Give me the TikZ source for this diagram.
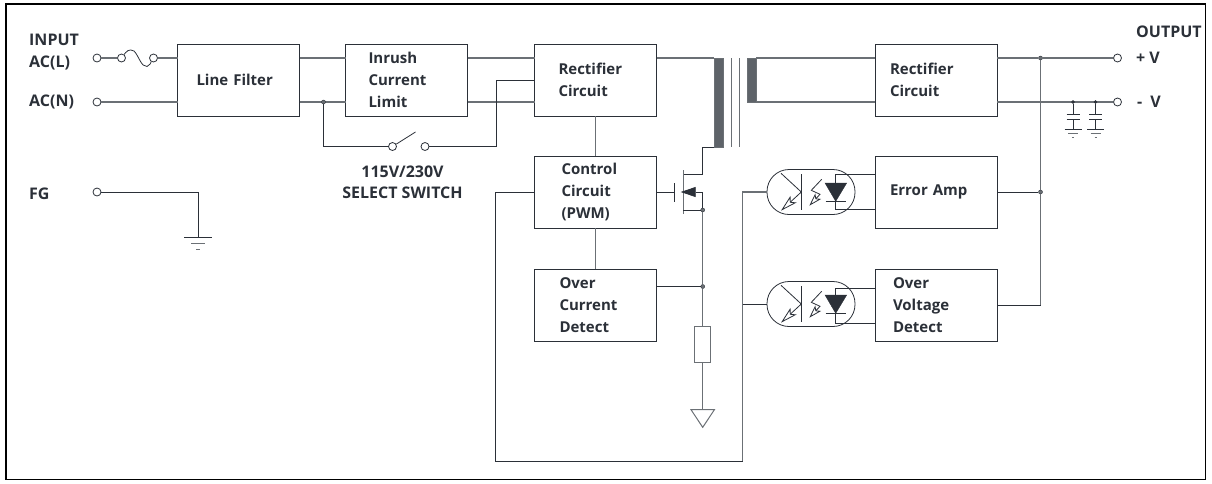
\documentclass[tikz,border=0pt]{standalone}
\usepackage{fontspec}
\setmainfont{Open Sans}
\usetikzlibrary{positioning,calc}
\usetikzlibrary{arrows.meta}
\definecolor{ink}{rgb}{0.17,0.19,0.22}
\definecolor{steel}{rgb}{0.42,0.44,0.46}
\definecolor{core}{rgb}{0.37,0.39,0.41}

\begin{document}
\begin{tikzpicture}[
  x=1pt,
  y=-1pt,
  box/.style = {
    draw=ink,
    line width=0.8pt,
    fill = white,
    outer sep = 0pt,
    minimum width = 122pt,
    minimum height = 72pt,
    inner xsep = #1,
    text width = 122pt-2*#1,
    align = left,
    font = \fontsize{15}{22}\selectfont\bfseries,
    text = ink,
  },
  caption/.style = {
    inner sep = 0pt,
    align = center,
    text = ink,
    font = \fontsize{16}{21}\selectfont\bfseries,
  },
  term/.style = {
    draw=ink,
    circle,
    line width=0.8pt,
    fill = white,
    inner sep = 0pt,
    minimum size = 8pt,
  },
  dot/.style = {
    draw=ink,
    circle,
    fill = steel,
    inner sep = 0pt,
    minimum size = 4pt,
  },
  wire/.style = {ink,line width=0.8pt},
  power/.style = {steel,line width=1.3pt},
  winding/.style = {
    draw=steel,
    fill = core,
    outer sep = 0pt,
    minimum width = 9pt,
    inner sep = 0pt,
  },
  opto/.style = {
    draw=ink,
    line width=0.8pt,
    rounded corners = 22pt,
    outer sep = 0pt,
    minimum width = 88pt,
    minimum height = 45pt,
  },
]
  \useasboundingbox (0,0) rectangle (1212,483);
  \draw[black,line width=1.8pt] (6,4) rectangle (1205.5,479.5);

  % blocks
  \node[box=19pt] (filter) at (238.5,80) {Line Filter};
  \node[box=23pt] (inrush) [right=46pt of filter] {Inrush\\Current\\Limit};
  \node[box=24pt] (rectp) [right=67pt of inrush] {Rectifier\\Circuit};
  \node[box=27pt] (control) [below=40pt of rectp] {Control\\Circuit\\(PWM)};
  \node[box=25pt] (ocd) [below=41pt of control] {Over\\Current\\Detect};
  \node[box=15pt] (rects) at (936,80) {Rectifier\\Circuit};
  \node[box=15pt] (error) [below=40pt of rects] {Error Amp};
  \node[box=18pt] (ovd) [below=41pt of error] {Over\\Voltage\\Detect};

  % texts
  \node[caption,anchor=west] at (29,40) {INPUT};
  \node[caption,anchor=west] at (29,63) {AC(L)};
  \node[caption,anchor=west] at (29,102) {AC(N)};
  \node[caption,anchor=west] at (29,194) {FG};
  \node[caption] at (402.5,182) {115V/230V\\SELECT SWITCH};
  \node[caption,anchor=west] at (1136,32) {OUTPUT};
  \node[caption,anchor=west] at (1136,58) {+ V};
  \node[caption,anchor=west] at (1137,102) {-\,\,\,V};

  % terminals
  \node[term] (acl) at (97,58) {};
  \node[term] (acn) at (97,102) {};
  \node[term] (fg) at (97,192) {};
  \node[term] (fusea) at (121.5,58) {};
  \node[term] (fuseb) at (153.5,58) {};
  \node[term] (swa) at (392.5,146.5) {};
  \node[term] (swb) at (425,146.5) {};
  \node[term] (plus) at (1117.5,58) {};
  \node[term] (minus) at (1117.5,102) {};

  % input side
  \draw[power] (acl) -- (fusea);
  \draw[power] (fuseb) -- (fuseb -| filter.west);
  \draw[wire] (fusea) .. controls (126,52) and (129,48) .. (134,51)
    .. controls (139,56) and (141,67) .. (147,66.5) .. controls (150,66) and (151,62) .. (fuseb);
  \draw[power] (acn) -- (acn -| filter.west);
  \draw[power] ([yshift=-14pt]filter.north east) -- ([yshift=-14pt]inrush.north west);
  \draw[power] ([yshift=14pt]filter.south east) -- ([yshift=14pt]inrush.south west);
  \draw[power] ([yshift=-14pt]inrush.north east) -- ([yshift=-14pt]rectp.north west);
  \draw[power] ([yshift=14pt]inrush.south east) -- ([yshift=14pt]rectp.south west);
  \node[dot] (jn) at (323.5,102) {};
  \coordinate (swarm) at (415.5,132);
  \coordinate (swup) at (496,146.5);
  \draw[wire] (jn) |- (swa);
  \draw[wire] (swa) -- (swarm);
  \draw[wire] (swb) -- (swup) |- (rectp.west);
  \draw[power] (rectp) -- (control);
  \draw[power] (control) -- (ocd);

  % ground of FG
  \coordinate (fgg) at (198,237);
  \draw[wire] (fg) -| (fgg);
  \draw[wire] ([xshift=-14pt]fgg) -- ([xshift=14pt]fgg);
  \draw[power,line width=1pt] ([shift={(-7,6.5)}]fgg) -- ([shift={(7,6.5)}]fgg);
  \draw[power,line width=1pt] ([shift={(-2,12.5)}]fgg) -- ([shift={(2,12.5)}]fgg);

  % transformer
  \node[winding,minimum height=89pt] (windp) at (718.5,102.5) {};
  \node[winding,minimum height=44pt] (winds) at (751.5,80) {};
  \coordinate (corea) at (731,58);
  \coordinate (coreb) at (739.5,58);
  \draw[power,line width=1pt] (corea) -- ++(0,89);
  \draw[power,line width=1pt] (coreb) -- ++(0,89);
  \draw[power] ([yshift=-14pt]rectp.north east) -- (windp.north west);
  \draw[power] (winds.north east) -- ([yshift=-14pt]rects.north west);
  \draw[power] (winds.south east) -- ([yshift=14pt]rects.south west);

  % switching transistor
  \coordinate (drain) at (683,174.5);
  \coordinate (source) at (683,210);
  \coordinate (gate) at (674.7,192);
  \coordinate (body) at (702.7,192);
  \node[dot] (jsrc) at (702.7,210) {};
  \node[dot] (jocd) at (702.7,286.5) {};
  \draw[wire] (windp.south west) -- ++(-11.5,0) |- (drain);
  \draw[power,line width=1pt] ($(drain)+(0,-4.5)$) -- ($(source)+(0,4)$);
  \draw[wire] ($(gate)+(0,-9)$) -- ($(gate)+(0,9.7)$);
  \draw[wire] (gate -| control.east) -- (gate);
  \draw[wire] (source) -- (jsrc);
  \draw[wire,-{Triangle[length=15pt,width=10pt]}] (jsrc) -- (body) -- ++(-22,0);

  % current sense
  \node[draw=steel,line width=1pt,minimum width=16.5pt,minimum height=36pt,inner sep=0pt,outer sep=0pt] (shunt) at (702.7,344.7) {};
  \coordinate (gndtop) at (702.7,409.7);
  \draw[power,line width=1pt] (jsrc) -- (jocd);
  \draw[power,line width=1pt] (jocd) -- (shunt);
  \draw[power,line width=1pt] (shunt) -- (gndtop);
  \draw[wire] (jocd -| ocd.east) -- (jocd);
  \draw[steel,line width=1pt] ($(gndtop)+(-11.7,0)$) -- ($(gndtop)+(11.7,0)$) -- ($(gndtop)+(0,17.6)$) -- cycle;

  % optocouplers
  \foreach \name/\y in {optoa/192,optob/304} {
    \node[opto] (\name) at (811,\y) {};
    \draw[wire] (801.3,\y-17.7) -- (801.3,\y+18);
    \draw[wire] (781,\y-18.7) -- (801.3,\y);
    \draw[wire,-{Stealth[open,length=17pt,width=9pt,inset=4pt]}] (801.3,\y) -- (781,\y+18.7);
    \draw[wire,-{Stealth[open,length=13pt,width=8pt,inset=3pt]}] (821.7,\y-12.7) -- (811.3,\y-1.7) -- (820,\y+2.3) -- (809.3,\y+13.7);
    \draw[ink,fill=ink] (825,\y-9) -- (846.7,\y-9) -- (835.7,\y+9.3) -- cycle;
    \draw[wire] (825.7,\y+9.3) -- (845.7,\y+9.3);
  }
  \draw[wire] ([yshift=-17.7pt]error.west) -- ([yshift=-17.7pt]error.west -| 835.7,0) -- ([yshift=18pt]error.west -| 835.7,0) -- ([yshift=18pt]error.west);
  \draw[wire] ([yshift=-18.7pt]ovd.west) -- ([yshift=-18.7pt]ovd.west -| 835.7,0) -- ([yshift=17pt]ovd.west -| 835.7,0) -- ([yshift=17pt]ovd.west);

  % feedback loop
  \coordinate (loopa) at (495.5,461);
  \coordinate (loopb) at (742.7,461);
  \coordinate (jopto) at (742.7,304);
  \draw[wire] (control.west) -| (loopa) -- (loopb);
  \draw[power] (loopb) |- (optoa.west);
  \draw[wire] (jopto) -- (optob.west);

  % output side
  \node[dot] (jplus) at (1040.5,58) {};
  \node[dot] (jerr) at (1040.5,192) {};
  \coordinate (jovd) at (1040.5,305);
  \draw[power] ([yshift=-14pt]rects.north east) -- (jplus);
  \draw[power] (jplus) -- (plus);
  \draw[power] ([yshift=14pt]rects.south east) -- (minus);
  \draw[power,line width=1pt] (jplus) -- (jerr);
  \draw[power,line width=1pt] (jerr) -- (jovd);
  \draw[wire] (error.east) -- (jerr);
  \draw[wire] (ovd.east) -- (jovd);

  % filter capacitors
  \foreach \name/\x in {capa/1073,capb/1095.5} {
    \node[dot,fill=ink,minimum size=3pt] (\name) at (\x,102) {};
    \coordinate (\name top) at (\x,114);
    \coordinate (\name low) at (\x,119.5);
    \coordinate (\name gnd) at (\x,129);
    \draw[wire] (\name) -- (\name top);
    \draw[wire] (\name low) -- (\name gnd);
    \draw[wire] ($(\name top)+(-6.5,0)$) -- ($(\name top)+(6.5,0)$);
    \draw[wire] ($(\name low)+(-6.5,0)$) -- ($(\name low)+(6.5,0)$);
    \draw[wire] ($(\name gnd)+(-8.5,0)$) -- ($(\name gnd)+(8.5,0)$);
    \draw[power,line width=0.9pt] ($(\name gnd)+(-5,4.5)$) -- ($(\name gnd)+(5,4.5)$);
    \draw[power,line width=0.9pt] ($(\name gnd)+(-1,8.5)$) -- ($(\name gnd)+(1,8.5)$);
  }
\end{tikzpicture}
\end{document}
